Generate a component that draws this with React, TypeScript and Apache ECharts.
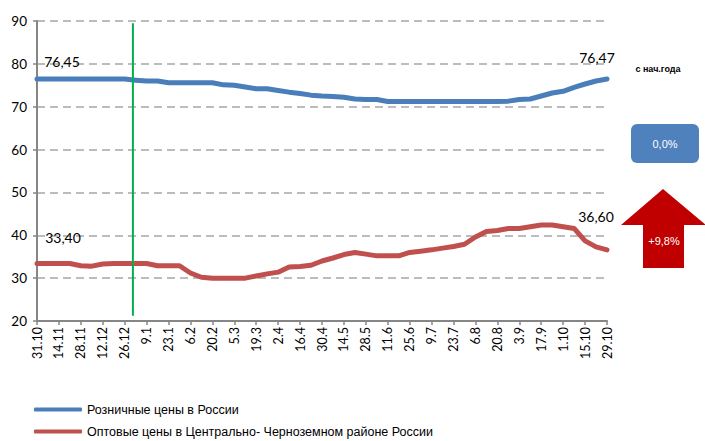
import React, { useEffect, useRef } from "react";
import * as echarts from "echarts";

const weeks = [
  "31.10","7.11","14.11","21.11","28.11","5.12","12.12","19.12","26.12","2.1",
  "9.1","16.1","23.1","30.1","6.2","13.2","20.2","27.2","5.3","12.3",
  "19.3","26.3","2.4","9.4","16.4","23.4","30.4","7.5","14.5","21.5",
  "28.5","4.6","11.6","18.6","25.6","2.7","9.7","16.7","23.7","30.7",
  "6.8","13.8","20.8","27.8","3.9","10.9","17.9","24.9","1.10","8.10",
  "15.10","22.10","29.10"
];

const retail = [
  76.45,76.45,76.45,76.45,76.45,76.45,76.45,76.45,76.45,76.2,
  76.0,76.0,75.6,75.6,75.6,75.6,75.6,75.1,75.0,74.6,
  74.2,74.2,73.8,73.4,73.1,72.7,72.5,72.4,72.2,71.8,
  71.7,71.7,71.2,71.2,71.2,71.2,71.2,71.2,71.2,71.2,
  71.2,71.2,71.2,71.3,71.7,71.8,72.5,73.2,73.6,74.5,
  75.3,76.0,76.47
];

const wholesale = [
  33.4,33.4,33.4,33.4,32.9,32.8,33.3,33.4,33.4,33.4,
  33.4,32.9,32.9,32.9,31.2,30.2,30.0,30.0,30.0,30.0,
  30.5,31.0,31.4,32.6,32.7,33.0,34.0,34.7,35.5,36.0,
  35.6,35.2,35.2,35.2,36.0,36.3,36.6,37.0,37.4,37.9,
  39.6,40.9,41.1,41.6,41.6,42.0,42.4,42.4,42.0,41.6,
  38.7,37.3,36.6
];

const seriesNames = [
  "Розничные цены в России",
  "Оптовые цены в Центрально- Черноземном районе России"
];

const startLabels = ["76,45", "33,40"];
const endLabels = ["76,47", "36,60"];
const changeLabels = ["0,0%", "+9,8%"];
const newYearIndex = 8.75;

const FONT = "Lato, 'Liberation Sans', sans-serif";
const SANS = "'Liberation Sans', Arial, sans-serif";

function withLabels(values: number[], first: string, last: string, firstOffset: number[], lastOffset: number[]) {
  return values.map((v, i) => {
    if (i === 0) {
      return { value: v, label: { show: true, position: "top", formatter: first, offset: firstOffset, fontSize: 14, color: "#000", fontFamily: FONT } };
    }
    if (i === values.length - 1) {
      return { value: v, label: { show: true, position: "top", formatter: last, offset: lastOffset, fontSize: 14, color: "#000", fontFamily: FONT } };
    }
    return v;
  });
}

export default function App() {
  const ref = useRef<HTMLDivElement>(null);
  useEffect(() => {
    document.body.style.margin = "0";
    const chart = echarts.init(ref.current!, undefined, { renderer: "svg" });
    chart.setOption({
      animation: false,
      backgroundColor: "#fff",
      grid: { left: 37, right: 98, top: 21, bottom: 120 },
      legend: {
        orient: "vertical",
        left: 34,
        top: 403,
        padding: 0,
        itemWidth: 48,
        itemHeight: 4,
        itemGap: 9,
        icon: "roundRect",
        textStyle: { fontSize: 12.5, color: "#000", fontFamily: SANS },
        data: seriesNames
      },
      xAxis: {
        type: "category",
        data: weeks,
        boundaryGap: false,
        axisLine: { lineStyle: { color: "#868686", width: 2 } },
        axisTick: { show: true, interval: 1, length: 4, lineStyle: { color: "#868686", width: 1.5 } },
        axisLabel: { interval: 1, rotate: 90, fontSize: 12.5, color: "#000", margin: 6, fontFamily: FONT },
        splitLine: { show: false }
      },
      yAxis: {
        type: "value",
        min: 20,
        max: 90,
        interval: 10,
        axisLine: { show: true, lineStyle: { color: "#868686", width: 2 } },
        axisTick: { show: true, length: 4, lineStyle: { color: "#868686", width: 1.5 } },
        axisLabel: { fontSize: 13.5, color: "#000", margin: 10, fontFamily: FONT },
        splitLine: { show: true, lineStyle: { color: "#a6a6a6", width: 1.5, type: [8, 5] } }
      },
      series: [
        {
          name: seriesNames[0],
          type: "line",
          data: withLabels(retail, startLabels[0], endLabels[0], [25, -6], [-10, -9]),
          showSymbol: true,
          symbol: "circle",
          symbolSize: 0,
          lineStyle: { color: "#4a7ebb", width: 5, cap: "round", join: "round" },
          itemStyle: { color: "#4a7ebb" },
          z: 3
        },
        {
          name: seriesNames[1],
          type: "line",
          data: withLabels(wholesale, startLabels[1], endLabels[1], [26, -14], [-11, -21]),
          showSymbol: true,
          symbol: "circle",
          symbolSize: 0,
          lineStyle: { color: "#c0504d", width: 5, cap: "round", join: "round" },
          itemStyle: { color: "#c0504d" },
          z: 3
        }
      ]
    });

    const i0 = Math.floor(newYearIndex);
    const p0 = chart.convertToPixel({ xAxisIndex: 0 }, i0) as number;
    const p1 = chart.convertToPixel({ xAxisIndex: 0 }, i0 + 1) as number;
    const gx = p0 + (p1 - p0) * (newYearIndex - i0);
    const gyTop = chart.convertToPixel({ yAxisIndex: 0 }, 89.5) as number;
    const gyBottom = chart.convertToPixel({ yAxisIndex: 0 }, 21.2) as number;

    chart.setOption({
      graphic: [
        { type: "line", z: 10, shape: { x1: gx, y1: gyTop, x2: gx, y2: gyBottom }, style: { stroke: "#00b050", lineWidth: 2 } },
        { type: "text", x: 658, y: 69, style: { text: "с нач.года", fontSize: 9, fontWeight: "bold", fill: "#000", align: "center", verticalAlign: "middle", fontFamily: SANS } },
        { type: "rect", shape: { x: 631, y: 124, width: 68, height: 39, r: 6 }, style: { fill: "#4f81bd" } },
        { type: "text", x: 665, y: 143.5, style: { text: changeLabels[0], fontSize: 11, fill: "#fff", align: "center", verticalAlign: "middle", fontFamily: SANS } },
        { type: "polygon", shape: { points: [[663, 189], [706, 225], [684, 225], [684, 268], [643, 268], [643, 225], [621, 225]] }, style: { fill: "#c00000" } },
        { type: "text", x: 664, y: 241, style: { text: changeLabels[1], fontSize: 11, fill: "#fff", align: "center", verticalAlign: "middle", fontFamily: SANS } }
      ]
    });

    return () => chart.dispose();
  }, []);
  return <div ref={ref} style={{ width: 705, height: 441 }} />;
}
